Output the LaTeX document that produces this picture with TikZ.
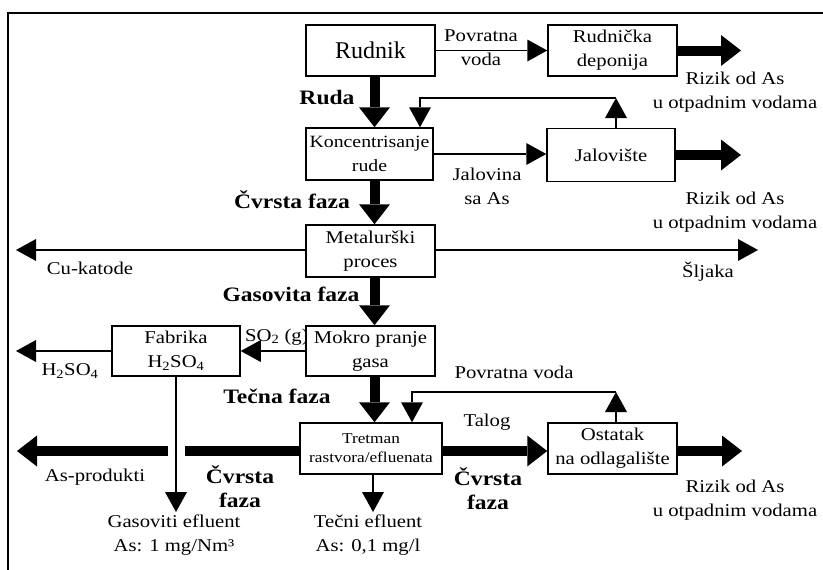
\documentclass[tikz,border=0pt]{standalone}
\usepackage{fontspec}
\setmainfont{Liberation Serif}
\newfontfamily\lblfam[FakeStretch=1.15]{Liberation Serif}
\usetikzlibrary{arrows.meta}
\newcommand\lblfont{\lblfam\fontsize{18}{24}\selectfont}
\newcommand\boldfont{\lblfam\bfseries\fontsize{20.5}{24}\selectfont}
\newcommand\smallfont{\lblfam\fontsize{15}{19}\selectfont}
\newcommand\bigfont{\fontsize{24}{28}\selectfont}
\begin{document}
\begin{tikzpicture}[x=1pt,y=-1pt,
  box/.style={draw, line width=1.5pt, fill=white, inner sep=0pt, align=center, font=\lblfont},
  lbl/.style={inner sep=0pt, align=center, font=\lblfont},
  blbl/.style={inner sep=0pt, align=center, font=\boldfont},
  thinarrow/.style={line width=1.5pt, -{Triangle[length=20pt,width=22pt,line width=0pt]}},
  fatarrow/.style={line width=10pt, -{Triangle[length=20pt,width=31pt,line width=0pt]}},
  fatline/.style={line width=10pt}]
\useasboundingbox (0,0) rectangle (823,570);
\clip (0,0) rectangle (823,570);
\draw[line width=1.5pt] (8,13) rectangle (835,585);

% label drawn under the box
\node[lbl, anchor=west] (so2) at (245,337) {SO\textsubscript{2} (g)};

% boxes
\node[box, minimum width=129pt, minimum height=51pt, font=\bigfont] (rud) at (370.5,50.5) {Rudnik};
\node[box, minimum width=129pt, minimum height=51pt] (dep) at (612.5,50.5) {Rudnička\\deponija};
\node[box, minimum width=127pt, minimum height=52pt, font=\lblfam\fontsize{17.2}{24}\selectfont] (kon) at (369.5,154) {Koncentrisanje\\rude};
\node[box, minimum width=128pt, minimum height=53pt] (jal) at (611,155) {Jalovište};
\node[box, minimum width=129pt, minimum height=52pt] (met) at (370.5,251) {Metalurški\\proces};
\node[box, minimum width=128pt, minimum height=50pt] (fab) at (176,351) {Fabrika\\H\textsubscript{2}SO\textsubscript{4}};
\node[box, minimum width=129pt, minimum height=50pt] (mok) at (370.5,351) {Mokro pranje\\gasa};
\node[box, minimum width=142pt, minimum height=51pt, font=\smallfont] (tre) at (371,448.5) {Tretman\\rastvora/efluenata};
\node[box, minimum width=129pt, minimum height=51pt] (ost) at (612.5,448.5) {Ostatak\\na odlagalište};

% free ends
\coordinate (r1) at (741,50.5);
\coordinate (fb1) at (616,98);
\coordinate (fb1b) at (420,98);
\coordinate (r2) at (741,155);
\coordinate (cu) at (16,250);
\coordinate (sl) at (758,250);
\coordinate (h2) at (16,351);
\coordinate (gas) at (176,512);
\coordinate (fb2) at (616,392);
\coordinate (fb2b) at (412,392);
\coordinate (gapR) at (185,451);
\coordinate (gapL) at (168,451);
\coordinate (asp) at (17,451);
\coordinate (r3) at (742,451);
\coordinate (tec) at (373,512);

% connectors
\draw[fatarrow] ([xshift=4pt]rud.south) -- ([xshift=4pt]rud.south |- kon.north);
\draw[thinarrow] (rud.east) -- (dep.west);
\draw[fatarrow] (dep.east) -- (r1);
\draw[thinarrow] (jal.north -| fb1) -- (fb1);
\draw[thinarrow] (fb1) -- (fb1b) -- (fb1b |- kon.north);
\draw[thinarrow] (kon.east) -- (kon.east -| jal.west);
\draw[fatarrow] (jal.east |- r2) -- (r2);
\draw[fatarrow] ([xshift=5pt]kon.south) -- ([xshift=5pt]kon.south |- met.north);
\draw[thinarrow] (met.west |- cu) -- (cu);
\draw[thinarrow] (met.east |- sl) -- (sl);
\draw[fatarrow] ([xshift=4pt]met.south) -- ([xshift=4pt]met.south |- mok.north);
\draw[thinarrow] (mok.west) -- (fab.east);
\draw[thinarrow] (fab.west) -- (h2);
\draw[thinarrow] (fab.south) -- (gas);
\draw[fatarrow] ([xshift=4pt]mok.south) -- ([xshift=4pt]mok.south |- tre.north);
\draw[thinarrow] (ost.north -| fb2) -- (fb2);
\draw[thinarrow] (fb2) -- (fb2b) -- (fb2b |- tre.north);
\draw[fatline] (tre.west |- gapR) -- (gapR);
\draw[fatarrow] (gapL) -- (asp);
\draw[fatarrow] (tre.east |- gapR) -- (ost.west |- gapR);
\draw[fatarrow] (ost.east |- r3) -- (r3);
\draw[thinarrow] (tre.south -| tec) -- (tec);

% labels
\node[lbl] (pv1) at (481,48) {Povratna\\voda};
\node[lbl] (rz1) at (735,92) {Rizik od As\\u otpadnim vodama};
\node[blbl] (ruda) at (327,98) {Ruda};
\node[lbl] (jsa) at (487,186) {Jalovina\\sa As};
\node[lbl] (rz2) at (735,212) {Rizik od As\\u otpadnim vodama};
\node[blbl] (cf1) at (292,200) {Čvrsta faza};
\node[lbl] (cuk) at (90,268) {Cu-katode};
\node[lbl] (slj) at (708,272) {Šljaka};
\node[blbl] (gf) at (291,294) {Gasovita faza};
\node[lbl] (h2s) at (70,371) {H\textsubscript{2}SO\textsubscript{4}};
\node[blbl] (tf) at (277,396) {Tečna faza};
\node[lbl] (pv2) at (514,372) {Povratna voda};
\node[lbl] (tal) at (487,422) {Talog};
\node[blbl] (cf2) at (488,489) {Čvrsta\\faza};
\node[blbl] (cf3) at (240,487) {Čvrsta\\faza};
\node[lbl] (asp_l) at (95,477) {As-produkti};
\node[lbl] (rz3) at (735,500) {Rizik od As\\u otpadnim vodama};
\node[lbl] (ge) at (174,535) {Gasoviti efluent\\As: 1 mg/Nm³};
\node[lbl] (te) at (368,535) {Tečni efluent\\As: 0,1 mg/l};
\end{tikzpicture}
\end{document}
